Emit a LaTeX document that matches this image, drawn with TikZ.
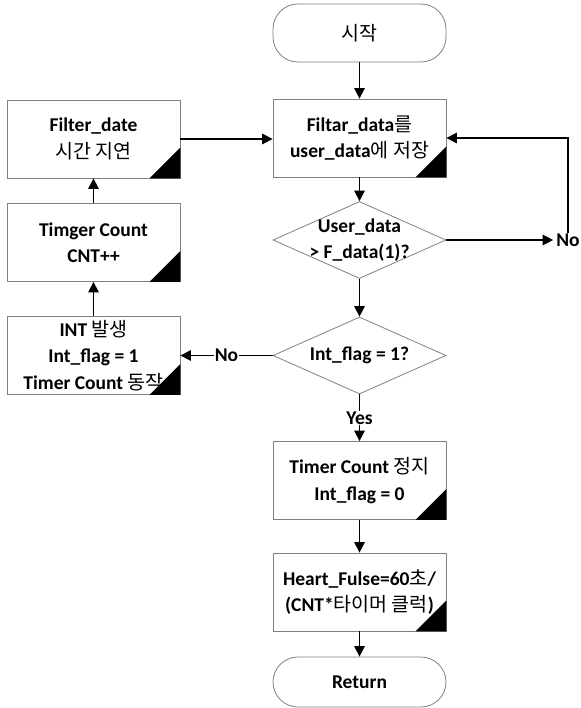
\documentclass[tikz,border=0pt]{standalone}
\usepackage{fontspec}
\setmainfont{Carlito}
\newfontfamily\krfont{Noto Sans CJK KR}
\newcommand{\ko}[1]{{\mdseries\krfont #1}}
\usetikzlibrary{arrows.meta,shapes.geometric}
\begin{document}
\begin{tikzpicture}[x=1pt,y=-1pt,
  every node/.style={font=\fontsize{19.5}{26.5}\selectfont\bfseries, inner sep=0pt},
  box/.style={draw=black!50, line width=0.8pt, rectangle, minimum width=173pt, minimum height=78pt, align=center},
  term/.style={draw=black!50, line width=0.8pt, rectangle, rounded corners=25pt, minimum width=173pt, align=center},
  dia/.style={draw=black!50, line width=0.8pt, diamond, minimum width=173pt, minimum height=77pt, shape aspect=2.25},
  arr/.style={line width=1.5pt, -{Triangle[length=10.5pt,width=10.5pt]}},
  lab/.style={fill=white, inner sep=0.5pt}
]
\useasboundingbox (0,0) rectangle (580,708);
% right column
\node[term, minimum height=58pt] (start) at (359.5,33) {\ko{시작}};
\node[box] (filtar) at (359.5,138) {Filtar\_data\ko{를}\\user\_data\ko{에 저장}};
\node[dia] (d1) at (359.5,240) {};
\node[align=center] at (d1.center) {User\_data\\> F\_data(1)?};
\node[inner xsep=3pt] (no1) at (568,240) {No};
\node[dia] (d2) at (359.5,355.5) {};
\node[align=center] at (d2.center) {Int\_flag = 1?};
\node[box] (timer) at (359.5,480.5) {Timer Count \ko{정지}\\Int\_flag = 0};
\node[box] (heart) at (359.5,592) {Heart\_Fulse=60\ko{초}/\\(CNT*\ko{타이머 클럭})};
\node[term, minimum height=50pt] (ret) at (359.5,682) {Return};
% left column
\node[box] (filter) at (93.5,139) {Filter\_date\\\ko{시간 지연}};
\node[box] (timger) at (93.5,242.5) {Timger Count\\CNT++};
\node[box] (int) at (93.5,355.5) {INT \ko{발생}\\Int\_flag = 1\\Timer Count \ko{동작}};
% corner triangles
\foreach \n in {filtar,timer,heart,filter,timger,int}
  \fill (\n.south east) -- ++(-31pt,0pt) -- ++(31pt,31pt) -- cycle;
% connectors
\draw[arr] (start.south) -- (filtar.north);
\draw[arr] (filtar.south) -- (d1.north);
\draw[arr] (d1.east) -- (no1.west);
\draw[arr] (no1.north) -- (no1.north |- filtar.east) -- (filtar.east);
\draw[arr] (d1.south) -- (d2.north);
\draw[arr] (d2.west) -- node[lab] {No} (int.east);
\draw[arr] (d2.south) -- node[lab] {Yes} (timer.north);
\draw[arr] (timer.south) -- (heart.north);
\draw[arr] (heart.south) -- (ret.north);
\draw[arr] (int.north) -- (timger.south);
\draw[arr] (timger.north) -- (filter.south);
\draw[arr] (filter.east) -- (filtar.west |- filter.east);
\end{tikzpicture}
\end{document}
